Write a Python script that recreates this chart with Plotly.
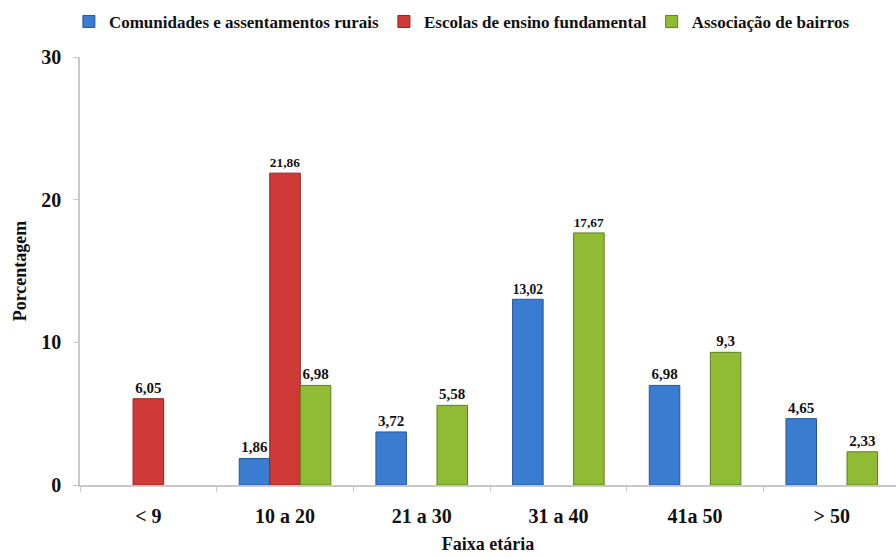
import plotly.graph_objects as go

categories = ["< 9", "10 a 20", "21 a 30", "31 a 40", "41a 50", "> 50"]
comunidades = [None, 1.86, 3.72, 13.02, 6.98, 4.65]
escolas = [6.05, 21.86, None, None, None, None]
associacao = [None, 6.98, 5.58, 17.67, 9.3, 2.33]

series = [
    ("Comunidades e assentamentos rurais", comunidades, "#3a7cd0", "#25569a"),
    ("Escolas de ensino fundamental", escolas, "#d03a36", "#8e2422"),
    ("Associação de bairros", associacao, "#8fbb35", "#5f7f1e"),
]

FONT = "Liberation Serif, Times New Roman, serif"

fig = go.Figure()
for name, vals, color, edge in series:
    fig.add_trace(go.Bar(
        name="<b>" + name + "</b>",
        x=categories,
        y=vals,
        marker=dict(color=color, line=dict(color=edge, width=1)),
        texttemplate="<b>%{y}</b>",
        textposition="outside",
        textfont=dict(family=FONT, size=15, color="#111111"),
        cliponaxis=False,
    ))

fig.update_layout(
    width=896,
    height=558,
    margin=dict(l=80, r=0, t=57, b=73),
    paper_bgcolor="white",
    plot_bgcolor="white",
    barmode="group",
    bargap=0.33,
    bargroupgap=0,
    separators=",.",
    font=dict(family=FONT, color="#111111"),
    showlegend=True,
    legend=dict(
        orientation="h",
        x=0.468, xanchor="center",
        y=1.082, yanchor="middle",
        font=dict(family=FONT, size=17, color="#111111"),
        itemwidth=30,
        tracegroupgap=0,
        traceorder="normal",
    ),
    xaxis=dict(
        range=[-0.5, 5.47],
        showline=True,
        linecolor="#c8c8c8",
        linewidth=1.5,
        ticks="outside",
        tickson="boundaries",
        ticklen=5,
        tickcolor="#c8c8c8",
        ticklabelstandoff=12,
        tickfont=dict(family=FONT, size=20, color="#111111"),
        title=dict(text="<b>Faixa etária</b>", font=dict(family=FONT, size=18), standoff=12),
        tickprefix="<b>", ticksuffix="</b>",
    ),
    yaxis=dict(
        range=[0, 30],
        dtick=10,
        showgrid=False,
        zeroline=False,
        showline=True,
        linecolor="#c8c8c8",
        linewidth=1.5,
        ticks="outside",
        ticklen=5,
        tickcolor="#c8c8c8",
        ticklabelstandoff=8,
        tickfont=dict(family=FONT, size=20, color="#111111"),
        tickprefix="<b>", ticksuffix="</b>",
        title=dict(text="<b>Porcentagem</b>", font=dict(family=FONT, size=18), standoff=10),
    ),
)

fig.write_html("out.html")
